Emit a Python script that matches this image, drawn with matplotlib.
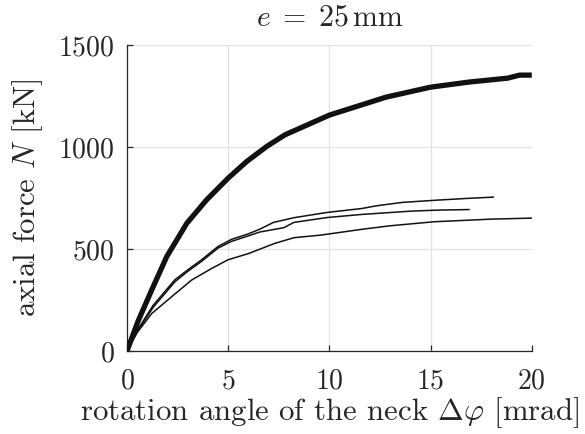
import matplotlib
matplotlib.use("Agg")
import matplotlib.pyplot as plt

plt.rcParams["font.family"] = "serif"
plt.rcParams["font.serif"] = ["cmr10"]
plt.rcParams["mathtext.fontset"] = "cm"
plt.rcParams["axes.formatter.use_mathtext"] = True

# DATA
thick_x = [0, 0.55, 1.22, 1.97, 2.96, 3.94, 5.0, 5.91, 6.9, 7.8, 10.0, 12.8, 15.0, 16.9, 18.8, 19.4, 20.0]
thick_y = [0, 147, 299, 464, 627, 742, 848, 929, 1003, 1060, 1157, 1245, 1294, 1319, 1338, 1353, 1353]

a_x = [0, 0.5, 1.3, 2.37, 3.03, 3.69, 4.5, 5.17, 6.0, 6.57, 7.24, 8.25, 9.9, 11.6, 12.3, 13.6, 15.3, 16.7, 18.1]
a_y = [0, 100, 225, 350, 400, 448, 513, 548, 575, 598, 631, 654, 680, 699, 712, 729, 740, 748, 755]

b_x = [0, 0.5, 1.3, 2.37, 3.03, 3.69, 4.5, 5.17, 6.0, 6.57, 7.75, 8.25, 9.9, 11.6, 14.0, 15.3, 16.9]
b_y = [0, 95, 215, 340, 393, 440, 505, 538, 565, 584, 605, 631, 655, 670, 686, 691, 694]

c_x = [0, 0.5, 1.22, 2.2, 3.19, 4.18, 5.0, 6.0, 6.65, 7.3, 8.25, 9.6, 11.6, 12.97, 15.15, 18.0, 20.0]
c_y = [0, 90, 184, 266, 348, 405, 448, 478, 503, 528, 556, 569, 597, 614, 634, 647, 652]

x_ticks = [0, 5, 10, 15, 20]
y_ticks = [0, 500, 1000, 1500]

txt = "#262626"
label_fs = 22.2

fig = plt.figure(figsize=(5.85, 4.34), dpi=100)
ax = fig.add_axes([0.217, 0.191, 0.692, 0.705])

ax.plot(thick_x, thick_y, color="#111111", lw=3.8, solid_capstyle="butt", zorder=3)
for xs, ys in [(a_x, a_y), (b_x, b_y), (c_x, c_y)]:
    ax.plot(xs, ys, color="#111111", lw=1.1, zorder=3)

ax.set_xlim(0, 20)
ax.set_ylim(0, 1500)
ax.set_xticks(x_ticks)
ax.set_yticks(y_ticks)
ax.grid(True, color="#e3e3e3", lw=0.9)
ax.set_axisbelow(True)

for s in ["top", "right"]:
    ax.spines[s].set_visible(False)
for s in ["left", "bottom"]:
    ax.spines[s].set_color(txt)
    ax.spines[s].set_linewidth(0.9)

ax.tick_params(direction="in", length=4, width=0.9, color=txt,
               labelsize=20, labelcolor=txt)
ax.tick_params(axis="x", pad=12)
ax.tick_params(axis="y", pad=9)

ax.set_title(r"$e\;=\;25\,\mathrm{mm}$", fontsize=21.5, color=txt, pad=14)
ax.set_xlabel(r"rotation angle of the neck $\Delta\varphi$ [mrad]", fontsize=label_fs, color=txt, labelpad=1)
ax.set_ylabel(r"axial force $N$ [kN]", fontsize=label_fs, color=txt, labelpad=9)

fig.savefig("out.png", dpi=100)
